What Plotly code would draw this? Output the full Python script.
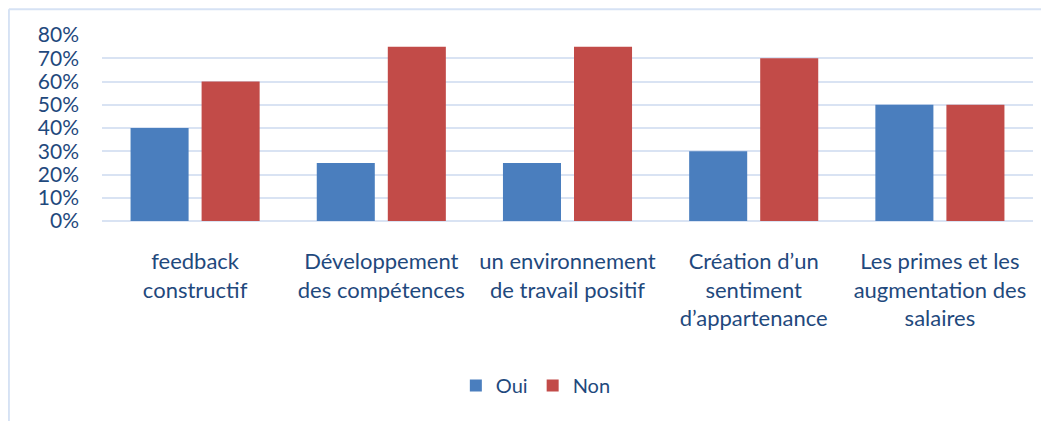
import plotly.graph_objects as go

categories = [
    "feedback<br>constructif",
    "Développement<br>des compétences",
    "un environnement<br>de travail positif",
    "Création d’un<br>sentiment<br>d’appartenance",
    "Les primes et les<br>augmentation des<br>salaires",
]
oui = [0.40, 0.25, 0.25, 0.30, 0.50]
non = [0.60, 0.75, 0.75, 0.70, 0.50]
y_ticks = [0, 0.1, 0.2, 0.3, 0.4, 0.5, 0.6, 0.7, 0.8]

text_color = "#1F497D"
grid_color = "#D9E3F3"

fig = go.Figure()
fig.add_trace(go.Bar(name="Oui", x=categories, y=oui, marker=dict(color="#4A7EBE", line=dict(width=0))))
fig.add_trace(go.Bar(name="Non", x=categories, y=non, marker=dict(color="#C24B48", line=dict(width=0))))

fig.update_layout(
    width=1041, height=413,
    margin=dict(l=94, r=16, t=27, b=200),
    paper_bgcolor="white", plot_bgcolor="white",
    barmode="group", bargap=0.237, bargroupgap=0.183,
    font=dict(family="Lato, Carlito, Calibri, sans-serif", size=20, color=text_color),
    showlegend=True,
    legend=dict(orientation="h", x=0.466, xanchor="center", y=-0.885, yanchor="middle",
                font=dict(size=20, color=text_color), itemwidth=30, traceorder="normal"),
    shapes=[
        dict(type="line", xref="paper", yref="paper", x0=-0.1, x1=-0.1, y0=1.138, y1=-1.2,
             line=dict(color="#D6E2F4", width=2)),
        dict(type="line", xref="paper", yref="paper", x0=-0.1, x1=1.1, y0=1.138, y1=1.138,
             line=dict(color="#D6E2F4", width=2)),
    ],
)
fig.update_yaxes(range=[0, 0.8], tickvals=y_ticks, tickformat=".0%", showgrid=True,
                 gridcolor=grid_color, gridwidth=2, zeroline=True, zerolinecolor=grid_color,
                 zerolinewidth=2, showline=False, ticks="", ticklabelstandoff=22,
                 tickfont=dict(size=21, color=text_color))
fig.update_xaxes(showgrid=False, showline=False, ticks="", ticklabelstandoff=25,
                 tickfont=dict(size=22, color=text_color), tickangle=0)

fig.write_html("out.html")
